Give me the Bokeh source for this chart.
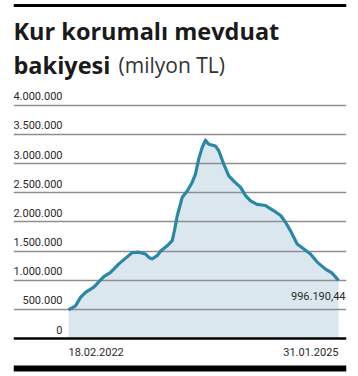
import pandas as pd
from bokeh.plotting import figure
from bokeh.models import Range1d, Grid, FixedTicker, Label, Span, BoxAnnotation
from bokeh.embed import file_html
from bokeh.resources import INLINE

# ---- data (values in TL million) ----
dates = ["2022-02-18", "2022-03-18", "2022-04-07", "2022-04-27", "2022-05-30",
         "2022-07-09", "2022-08-05", "2022-09-07", "2022-10-10", "2022-10-30",
         "2022-11-26", "2022-12-22", "2023-01-05", "2023-01-18", "2023-02-07",
         "2023-02-20", "2023-03-19", "2023-04-08", "2023-04-17", "2023-04-28",
         "2023-05-18", "2023-06-07", "2023-06-27", "2023-07-10", "2023-07-23",
         "2023-08-06", "2023-08-19", "2023-09-01", "2023-09-28", "2023-10-11",
         "2023-10-31", "2023-11-20", "2023-12-10", "2024-01-06", "2024-01-26",
         "2024-02-15", "2024-03-12", "2024-04-15", "2024-05-18", "2024-06-14",
         "2024-07-04", "2024-07-23", "2024-08-19", "2024-09-15", "2024-10-11",
         "2024-11-07", "2024-12-10", "2025-01-06", "2025-01-31"]
values = [490000, 560000, 705000, 790000, 880000,
          1060000, 1135000, 1280000, 1400000, 1470000,
          1480000, 1450000, 1390000, 1365000, 1420000,
          1495000, 1590000, 1680000, 1850000, 2100000,
          2420000, 2530000, 2680000, 2820000, 3080000,
          3280000, 3400000, 3330000, 3300000, 3220000,
          2990000, 2790000, 2700000, 2590000, 2450000,
          2360000, 2300000, 2280000, 2190000, 2110000,
          1990000, 1850000, 1620000, 1535000, 1450000,
          1310000, 1190000, 1120000, 996190.44]
tick_values = [0, 500000, 1000000, 1500000, 2000000, 2500000, 3000000, 3500000, 4000000]
tick_labels = ["0", "500.000", "1.000.000", "1.500.000", "2.000.000",
               "2.500.000", "3.000.000", "3.500.000", "4.000.000"]
first_date_label = "18.02.2022"
last_date_label = "31.01.2025"
last_value_label = "996.190,44"
title_line1 = "Kur korumalı mevduat"
title_line2 = "bakiyesi"
unit_text = "(milyon TL)"

x = pd.to_datetime(dates)

W, H = 358, 376
LEFT, RIGHT = 13, 346            # frame edges (px)
X0PX, X1PX = 68, 338             # data start / end (px)
ZERO_PX = 338                    # y pixel of 0
PX_PER_500K = 29.16

ms0 = x[0].value / 1e6
ms1 = x[-1].value / 1e6
mpp = (ms1 - ms0) / (X1PX - X0PX)
x_start = ms0 - (X0PX - LEFT) * mpp
x_end = ms1 + (RIGHT - X1PX) * mpp
upp = 500000 / PX_PER_500K
y_start = -(H - ZERO_PX) * upp
y_end = ZERO_PX * upp


def px_to_y(py):
    return (ZERO_PX - py) * upp


p = figure(width=W, height=H, output_backend="svg", toolbar_location=None,
           title=None, x_axis_location=None, y_axis_location=None,
           x_range=Range1d(x_start, x_end), y_range=Range1d(y_start, y_end),
           min_border_left=LEFT, min_border_right=W - RIGHT,
           min_border_top=0, min_border_bottom=0)
p.outline_line_color = None
p.background_fill_color = "white"
p.border_fill_color = "white"
p.xgrid.visible = False
p.ygrid.visible = False

grid = Grid(dimension=1, ticker=FixedTicker(ticks=tick_values[1:]),
            grid_line_color="#8e8e8e", grid_line_width=1.5)
p.add_layout(grid)

area = p.varea(x=x, y1=0, y2=values, fill_color="#dae7ef")
area.level = "image"
p.line(x=x, y=values, line_color="#2b87a6", line_width=3.2, line_join="round")

p.add_layout(Span(location=0, dimension="width", line_color="black", line_width=2.5))
# top rule and bottom bar
p.add_layout(BoxAnnotation(top=px_to_y(3.5), bottom=px_to_y(6.5), fill_color="black",
                           fill_alpha=1, line_color=None))
p.add_layout(BoxAnnotation(top=px_to_y(365), bottom=px_to_y(371), fill_color="black",
                           fill_alpha=1, line_color=None))

FONT = "Roboto"
FS = "11px"

for tv, tl in zip(tick_values, tick_labels):
    p.add_layout(Label(x=62 - LEFT, x_units="screen", y=tv, y_units="data",
                       text=tl, text_align="right", text_baseline="alphabetic",
                       y_offset=9, text_font=FONT, text_font_size=FS,
                       text_color="#2a2a2a"))

p.add_layout(Label(x=x[0], y=px_to_y(351), text=first_date_label,
                   text_align="left", text_baseline="alphabetic",
                   text_font=FONT, text_font_size=FS, text_color="#2a2a2a"))
p.add_layout(Label(x=x[-1], y=px_to_y(351), text=last_date_label,
                   text_align="right", text_baseline="alphabetic",
                   text_font=FONT, text_font_size=FS, text_color="#2a2a2a"))
p.add_layout(Label(x=x[-1], y=values[-1], text=last_value_label,
                   text_align="right", text_baseline="alphabetic",
                   x_offset=7, y_offset=-16,
                   text_font=FONT, text_font_size=FS, text_color="#2a2a2a"))

p.add_layout(Label(x=0, x_units="screen", y=px_to_y(30), text=title_line1,
                   text_align="left", text_baseline="alphabetic",
                   text_font="Open Sans", text_font_style="bold",
                   text_font_size="23.5px", text_color="#1a1a1a"))
p.add_layout(Label(x=0, x_units="screen", y=px_to_y(64), text=title_line2,
                   text_align="left", text_baseline="alphabetic",
                   text_font="Open Sans", text_font_style="bold",
                   text_font_size="23.5px", text_color="#1a1a1a"))
p.add_layout(Label(x=118 - LEFT, x_units="screen", y=px_to_y(64), text=unit_text,
                   text_align="left", text_baseline="alphabetic",
                   text_font="Open Sans", text_font_size="21px", text_color="#333333"))

open("out.html", "w").write(file_html(p, INLINE))
